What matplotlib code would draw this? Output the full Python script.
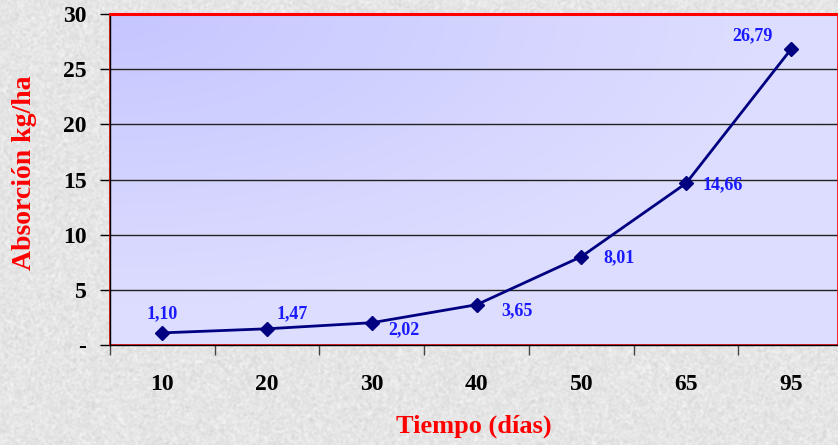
import numpy as np
import matplotlib
matplotlib.use("Agg")
import matplotlib.pyplot as plt
from matplotlib.patches import Rectangle

# absorption data
dias = ['10', '20', '30', '40', '50', '65', '95']
absorcion = [1.10, 1.47, 2.02, 3.65, 8.01, 14.66, 26.79]
yticks = [0, 5, 10, 15, 20, 25, 30]
ytick_labels = ['-', '5', '10', '15', '20', '25', '30']

# label offsets in points for each value
offsets = [(0, 14), (18, 11), (23, -5), (29, -4), (27, -1), (26, -1), (-28, 10)]

serif = ['Liberation Serif', 'DejaVu Serif']
plt.rcParams['font.family'] = serif

W, H = 838, 445
fig = plt.figure(figsize=(W / 100, H / 100), dpi=100)

# granite-like gray backdrop
rng = np.random.default_rng(3)
noise = rng.normal(0, 1, (H, W))
k = np.ones(3) / 3
noise = np.apply_along_axis(lambda r: np.convolve(r, k, mode='same'), 1, noise)
noise = np.apply_along_axis(lambda c: np.convolve(c, k, mode='same'), 0, noise)
bg = np.clip(0.90 + 0.05 * noise, 0, 1)
fig.figimage(np.dstack([bg, bg, bg]), xo=0, yo=0, zorder=-10)

ax = fig.add_axes([110 / W, 1 - 345 / H, 728 / W, 331 / H])
x = np.arange(len(dias))
ax.set_xlim(-0.5, 6.45)
ax.set_ylim(0, 30)

# lavender gradient, deeper toward the top-left corner
gx, gy = np.meshgrid(np.linspace(0, 1, 200), np.linspace(0, 1, 200))
t = np.clip(1.6 * np.hypot(gx, gy) / np.sqrt(2), 0, 1)
c0 = np.array([198, 198, 255]) / 255
c1 = np.array([221, 221, 255]) / 255
grad = c0[None, None, :] * (1 - t[..., None]) + c1[None, None, :] * t[..., None]
ax.imshow(grad, extent=[0, 1, 0, 1], transform=ax.transAxes, aspect='auto',
          zorder=0, origin='upper')
ax.patch.set_alpha(0)

for v in yticks[1:-1]:
    ax.axhline(v, color='#222222', lw=1, zorder=1)

ax.add_patch(Rectangle((0, 0), 1, 1, transform=ax.transAxes, fill=False,
                       edgecolor='red', lw=1.2, zorder=2, clip_on=False))

ax.plot(x, absorcion, color='#000080', lw=2, marker='D', markersize=7,
        zorder=3)
for xi, v, off in zip(x, absorcion, offsets):
    ax.annotate(f'{v:.2f}'.replace('.', ','), (xi, v), xytext=off,
                textcoords='offset points', ha='center', va='center',
                color='#1a1aff', fontsize=13, fontweight='bold', zorder=4)

for s in ['left', 'bottom']:
    ax.spines[s].set_color('black')
    ax.spines[s].set_linewidth(1)
ax.spines['top'].set_color('red')
ax.spines['top'].set_linewidth(2.2)
ax.spines['right'].set_visible(False)

ax.set_yticks(yticks)
ax.set_yticklabels(ytick_labels, fontsize=17, fontweight='bold')
ax.tick_params(axis='y', direction='out', length=7, width=1, pad=10)

ax.set_xticks(np.arange(-0.5, 6.5, 1.0))
ax.set_xticklabels([])
ax.set_xticks(x, minor=True)
ax.set_xticklabels(dias, minor=True, fontsize=17, fontweight='bold')
ax.tick_params(axis='x', which='major', direction='out', length=7,
               width=1, color='#444444')
ax.tick_params(axis='x', which='minor', length=0, pad=21)

ax.set_xlabel('Tiempo (días)', color='red', fontsize=19, fontweight='bold',
              labelpad=14)
ax.set_ylabel('Absorción kg/ha', color='red', fontsize=20, fontweight='bold')
ax.yaxis.set_label_coords(-0.100, 0.52)

fig.savefig('out.png', dpi=100)
